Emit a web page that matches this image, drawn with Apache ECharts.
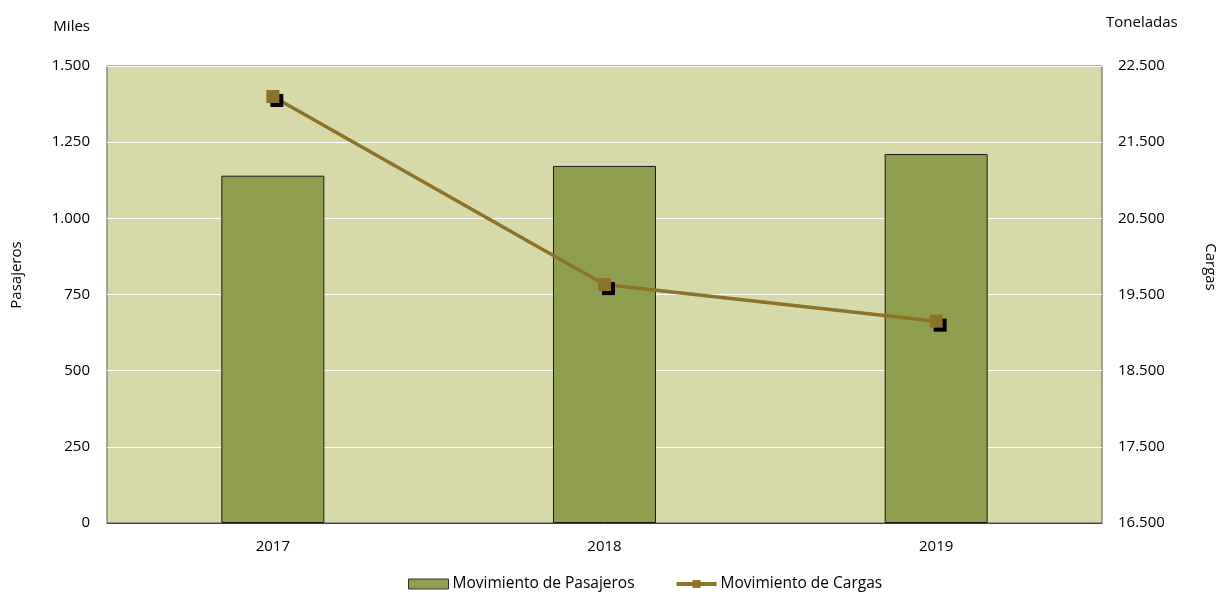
<!DOCTYPE html>
<html>
<head>
<meta charset="utf-8">
<script src="https://cdn.jsdelivr.net/npm/echarts@6/dist/echarts.min.js"></script>
<style>
html,body{margin:0;padding:0;background:#fff;}
#chart{width:1227px;height:598px;}
</style>
</head>
<body>
<div id="chart"></div>
<script>
// Annual passenger (thousands) and cargo (tonnes) movement
const years = ['2017', '2018', '2019'];
const pasajeros = [1140, 1172, 1211];
const cargas = [22100, 19630, 19150];

const FONT = '"Open Sans", "Noto Sans", sans-serif';
const fmt = v => String(v).replace(/\B(?=(\d{3})+(?!\d))/g, '.');

const chart = echarts.init(document.getElementById('chart'));
chart.setOption({
  animation: false,
  textStyle: { fontFamily: FONT, color: '#000' },
  grid: {
    left: 107, right: 125, top: 66, bottom: 75,
    show: true, backgroundColor: '#d7d9ab', borderColor: '#595959', borderWidth: 1
  },
  legend: {
    bottom: 1, left: 403, itemGap: 40, itemWidth: 40, itemHeight: 10,
    textStyle: { fontFamily: FONT, fontSize: 15.5, color: '#000', padding: [0, 0, 0, -1] },
    data: [
      { name: 'Movimiento de Pasajeros', icon: 'rect', itemStyle: { borderWidth: 1, borderColor: '#333' } },
      { name: 'Movimiento de Cargas', lineStyle: { width: 4 } }
    ]
  },
  xAxis: {
    type: 'category', data: years,
    axisLine: { show: true, lineStyle: { color: '#404040' } },
    axisTick: { show: false },
    axisLabel: { fontSize: 15, color: '#000', margin: 16, fontFamily: FONT }
  },
  yAxis: [
    {
      type: 'value', min: 0, max: 1500, interval: 250,
      name: 'Miles', nameLocation: 'end', nameGap: 32,
      nameTextStyle: { fontSize: 15, color: '#000', align: 'right', padding: [0, 17, 0, 0], fontFamily: FONT },
      axisLine: { show: false }, axisTick: { show: false },
      splitLine: { lineStyle: { color: '#ffffff', width: 1 } },
      axisLabel: { fontSize: 15, color: '#000', margin: 17, formatter: fmt, fontFamily: FONT }
    },
    {
      type: 'value', min: 16500, max: 22500, interval: 1000,
      name: 'Toneladas', nameLocation: 'end', nameGap: 36,
      nameTextStyle: { fontSize: 15, color: '#000', align: 'left', padding: [0, 0, 0, 4], fontFamily: FONT },
      axisLine: { show: false }, axisTick: { show: false },
      splitLine: { show: false },
      axisLabel: { fontSize: 15, color: '#000', margin: 16, formatter: fmt, fontFamily: FONT }
    }
  ],
  series: [
    {
      name: 'Movimiento de Pasajeros', type: 'bar', yAxisIndex: 0,
      data: pasajeros, barWidth: 103,
      itemStyle: { color: '#8f9f4f', borderColor: '#1a1a1a', borderWidth: 1 }
    },
    {
      name: 'Movimiento de Cargas', type: 'line', yAxisIndex: 1,
      data: cargas, symbol: 'rect', symbolSize: 13,
      lineStyle: { color: '#8c7328', width: 3.5 },
      itemStyle: {
        color: '#8c7328', borderWidth: 0,
        shadowColor: '#000', shadowOffsetX: 4, shadowOffsetY: 4, shadowBlur: 0
      }
    }
  ],
  graphic: [
    {
      type: 'text', rotation: Math.PI / 2,
      style: { text: 'Pasajeros', font: '15px ' + FONT, fill: '#000', textAlign: 'center', textVerticalAlign: 'middle' },
      x: 17, y: 275
    },
    {
      type: 'text', rotation: -Math.PI / 2,
      style: { text: 'Cargas', font: '15px ' + FONT, fill: '#000', textAlign: 'center', textVerticalAlign: 'middle' },
      x: 1210, y: 267
    }
  ]
});
</script>
</body>
</html>
